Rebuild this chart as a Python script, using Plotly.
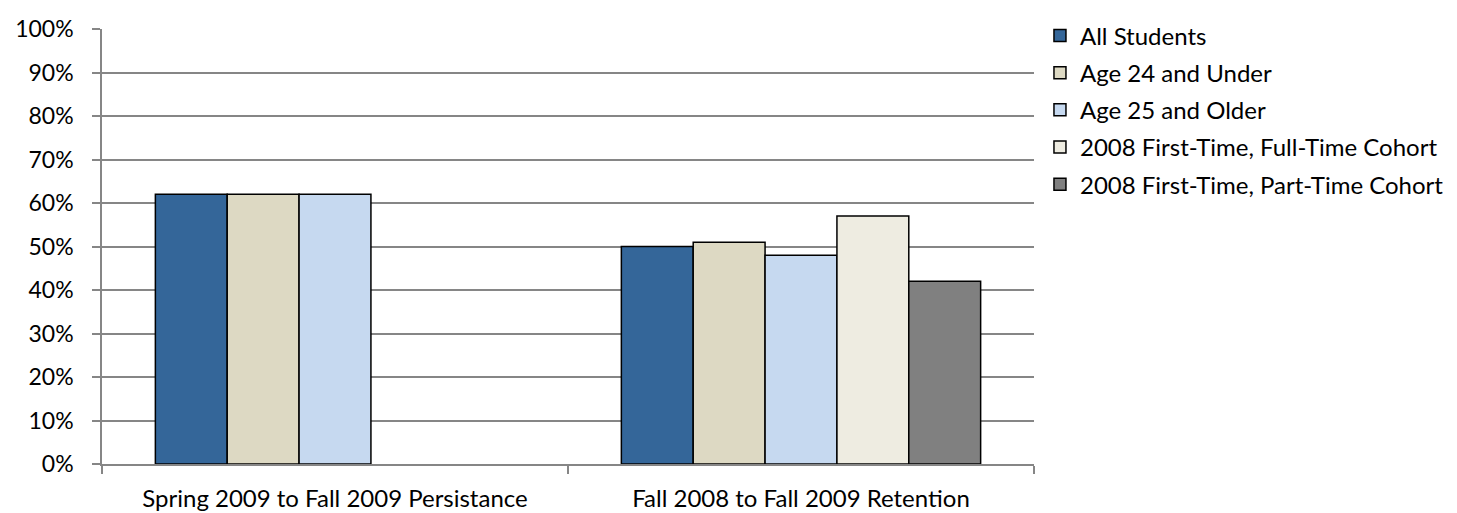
import plotly.graph_objects as go

categories = ["Spring 2009 to Fall 2009 Persistance", "Fall 2008 to Fall 2009 Retention"]
series_names = [
    "All Students",
    "Age 24 and Under",
    "Age 25 and Older",
    "2008 First-Time, Full-Time Cohort",
    "2008 First-Time, Part-Time Cohort",
]
all_students = [62, 50]
age_24_under = [62, 51]
age_25_older = [62, 48]
full_time_cohort = [None, 57]
part_time_cohort = [None, 42]
series_values = [all_students, age_24_under, age_25_older, full_time_cohort, part_time_cohort]
colors = ["#346699", "#DDD9C3", "#C6D9F0", "#EEECE1", "#808080"]

FONT = "Lato"
GRID = "#868686"

fig = go.Figure()
for name, vals, col in zip(series_names, series_values, colors):
    fig.add_trace(go.Bar(
        name=name, x=categories, y=vals,
        marker=dict(color=col, line=dict(color="#000000", width=1.5)),
        legendgroup=name,
    ))

fig.update_layout(
    width=1457, height=513,
    barmode="group", bargap=0.229, bargroupgap=0,
    paper_bgcolor="white", plot_bgcolor="white",
    margin=dict(l=94, r=431, t=21, b=57, autoexpand=False),
    font=dict(family=FONT, size=24, color="#000000"),
    showlegend=True,
    legend=dict(
        x=1.0064, xanchor="left", y=1.036, yanchor="top",
        font=dict(family=FONT, size=24, color="#000000"),
        bgcolor="rgba(0,0,0,0)", tracegroupgap=3,
        itemclick=False, itemdoubleclick=False,
    ),
)
fig.update_xaxes(
    type="category", tickson="boundaries", ticks="outside", ticklen=8,
    tickwidth=1.5, tickcolor=GRID, showline=True, linecolor=GRID, linewidth=1.5,
    showgrid=False, ticklabelstandoff=12,
    tickfont=dict(family=FONT, size=24, color="#000000"),
)
fig.update_yaxes(
    range=[0, 100], dtick=10, ticksuffix="%", ticks="outside", ticklen=8,
    tickwidth=1.5, tickcolor=GRID, showline=True, linecolor=GRID, linewidth=1.5,
    showgrid=True, gridcolor=GRID, gridwidth=1.5, zeroline=False,
    ticklabelstandoff=14,
    tickfont=dict(family=FONT, size=23, color="#000000"),
)

fig.write_html("out.html")
